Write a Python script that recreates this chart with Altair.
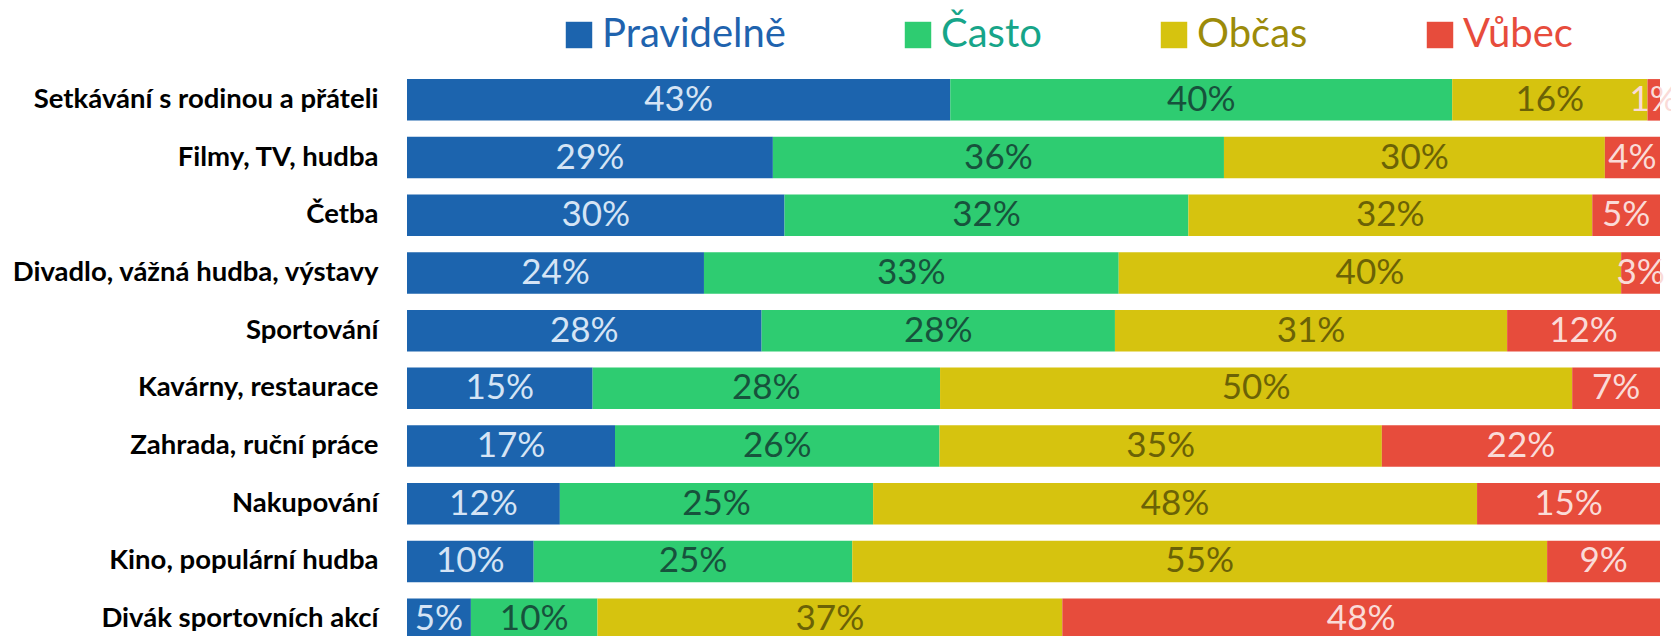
import altair as alt
import pandas as pd

activities = [
    "Setkávání s rodinou a přáteli",
    "Filmy, TV, hudba",
    "Četba",
    "Divadlo, vážná hudba, výstavy",
    "Sportování",
    "Kavárny, restaurace",
    "Zahrada, ruční práce",
    "Nakupování",
    "Kino, populární hudba",
    "Divák sportovních akcí",
]
categories = ["Pravidelně", "Často", "Občas", "Vůbec"]
pravidelne = [43.4, 29.2, 30.1, 23.7, 28.3, 14.8, 16.6, 12.2, 10.1, 5.1]
casto = [40.1, 36.0, 32.2, 33.1, 28.2, 27.7, 25.9, 25.0, 25.4, 10.1]
obcas = [15.6, 30.4, 32.2, 40.1, 31.3, 50.4, 35.3, 48.2, 55.4, 37.1]
vubec = [1.0, 4.4, 5.4, 3.1, 12.2, 7.0, 22.2, 14.6, 9.0, 47.7]

bar_colors = ["#1C64AE", "#2ECC71", "#D6C30F", "#E74C3C"]
label_colors = ["#D5E4F5", "#17523C", "#6B6206", "#FADBD8"]
legend_text_colors = ["#1F63AE", "#17A589", "#9C8B0A", "#E74C3C"]

rows = []
series = [pravidelne, casto, obcas, vubec]
for i, a in enumerate(activities):
    for j, c in enumerate(categories):
        rows.append({"activity": a, "cat": c, "order": j, "value": series[j][i]})
df = pd.DataFrame(rows)

base = (
    alt.Chart(df)
    .transform_joinaggregate(total="sum(value)", groupby=["activity"])
    .transform_calculate(pct="datum.value / datum.total")
    .transform_stack(
        stack="pct",
        groupby=["activity"],
        as_=["x0", "x1"],
        sort=[alt.SortField("order", order="ascending")],
    )
    .transform_calculate(
        mid="(datum.x0 + datum.x1) / 2",
        label="format(datum.value, '.0f') + '%'",
    )
)

y_enc = alt.Y(
    "activity:N",
    sort=activities,
    scale=alt.Scale(paddingInner=0.28, paddingOuter=0.14),
    axis=alt.Axis(
        title=None,
        ticks=False,
        tickSize=0,
        domain=False,
        labelFont="Lato",
        labelFontWeight="bold",
        labelFontSize=27.5,
        labelColor="black",
        labelPadding=29,
        labelLimit=0,
    ),
)

legend_expr = (
    "datum.index == 0 ? '%s' : datum.index == 1 ? '%s' : datum.index == 2 ? '%s' : '%s'"
    % tuple(legend_text_colors)
)

bars = base.mark_bar().encode(
    x=alt.X("x0:Q", scale=alt.Scale(domain=[0, 1], nice=False), axis=None),
    x2="x1:Q",
    y=y_enc,
    color=alt.Color(
        "cat:N",
        scale=alt.Scale(domain=categories, range=bar_colors),
        legend=alt.Legend(
            orient="none",
            legendX=152,
            legendY=-56,
            direction="horizontal",
            title=None,
            symbolType="square",
            symbolSize=700,
            symbolStrokeWidth=0,
            labelFont="Lato",
            labelFontSize=40,
            labelOffset=3,
            columnPadding=112,
            padding=0,
            labelLimit=0,
            labelColor=alt.ExprRef(legend_expr),
        ),
    ),
)

texts = base.mark_text(font="Lato", fontSize=35, baseline="middle", align="center").encode(
    x=alt.X("mid:Q", scale=alt.Scale(domain=[0, 1], nice=False), axis=None),
    y=y_enc,
    text="label:N",
    color=alt.Color(
        "cat:N", scale=alt.Scale(domain=categories, range=label_colors), legend=None
    ),
)

chart = (
    alt.layer(bars, texts)
    .resolve_scale(color="independent")
    .properties(
        width=1253,
        height=577,
        autosize=alt.AutoSizeParams(type="none"),
        padding={"left": 399, "top": 63, "right": 11, "bottom": 0},
        background="white",
    )
    .configure_view(stroke=None)
)

chart.save("out.html", embed_options={"renderer": "svg", "actions": False})
